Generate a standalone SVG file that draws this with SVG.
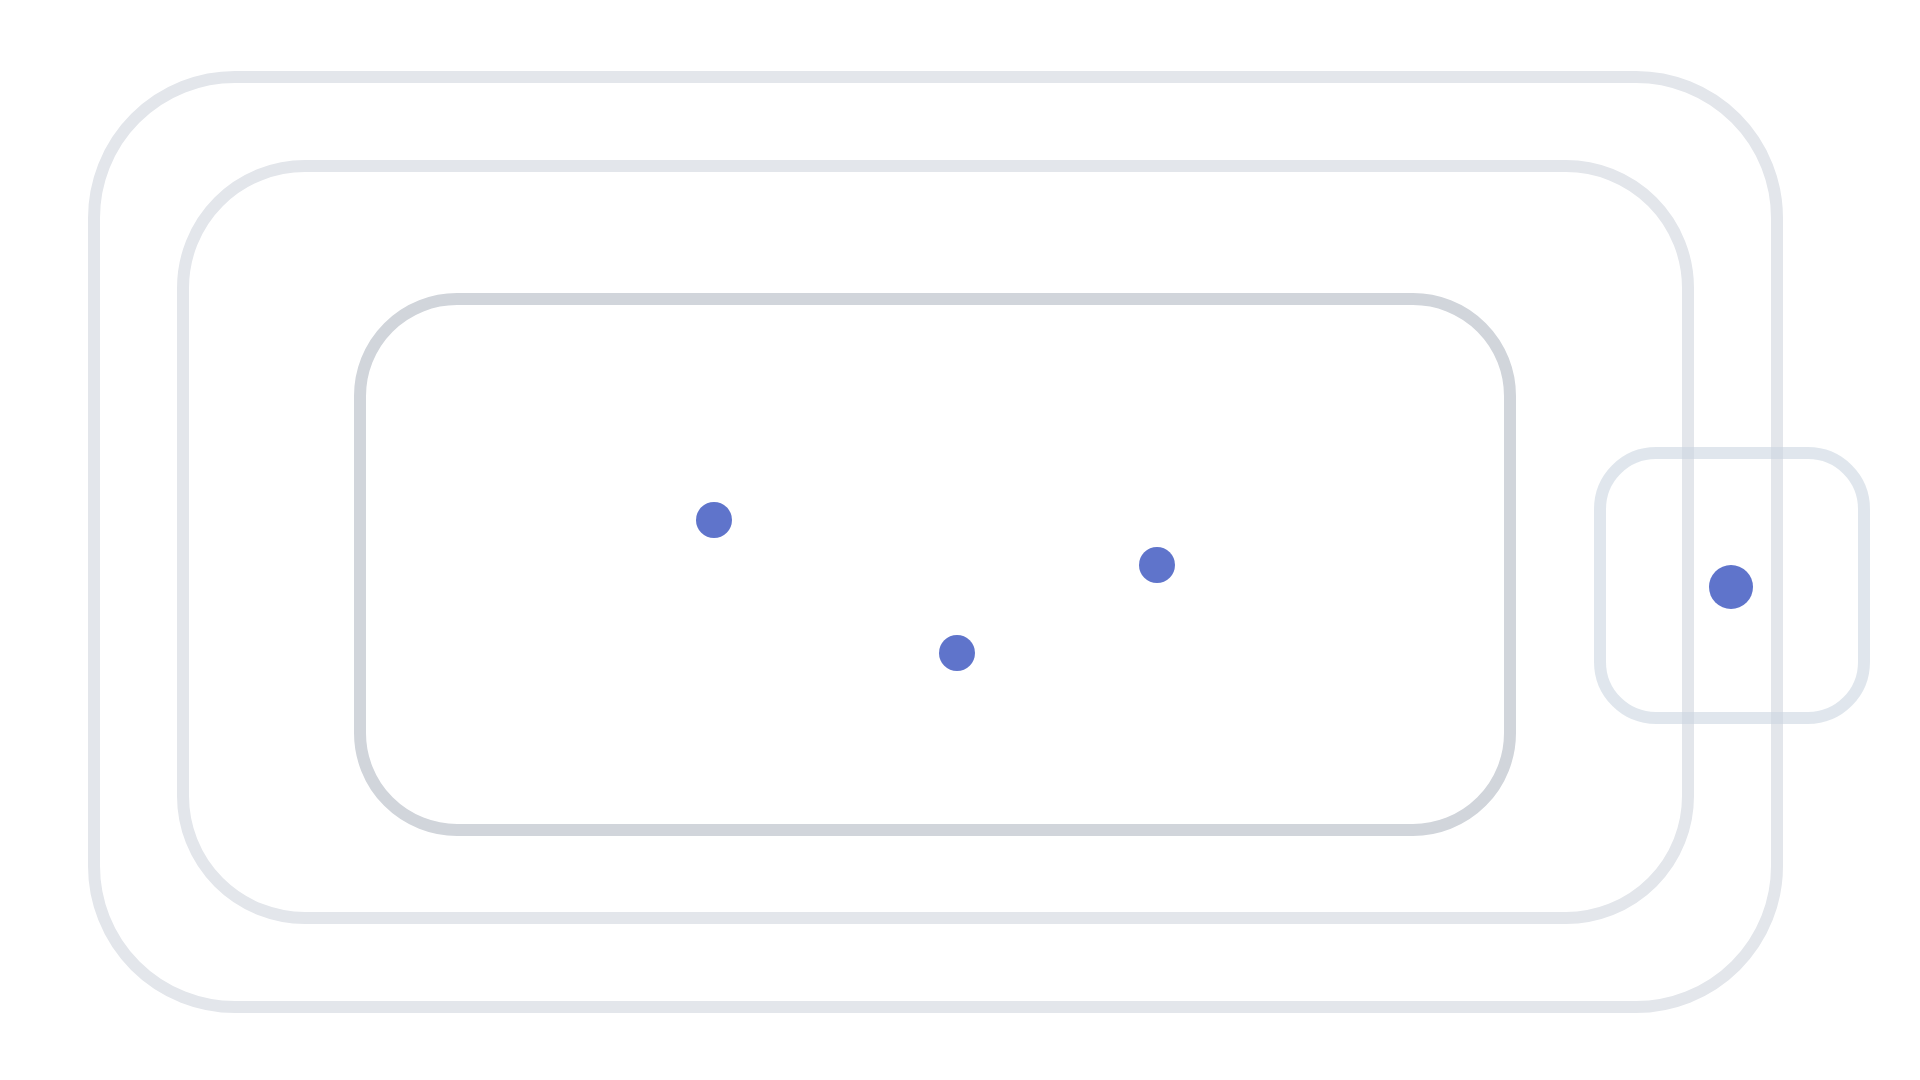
<svg xmlns="http://www.w3.org/2000/svg" width="1920" height="1080" viewBox="0 0 1920 1080">
  <style>
    .frame { fill: none; stroke: #e3e6eb; stroke-width: 12; }
    .frame-inner { fill: none; stroke: #d1d5db; stroke-width: 12; }
    .frame-small { fill: none; stroke: #cbd5e1; stroke-opacity: 0.6; stroke-width: 12; }
    .dot { fill: #5f74cb; }
  </style>
  <rect width="1920" height="1080" fill="#ffffff"/>
  <g id="outer-region">
    <rect class="frame" x="94" y="77" width="1683" height="930" rx="141" ry="141"/>
  </g>
  <g id="middle-region">
    <rect class="frame" x="183" y="166" width="1505" height="752" rx="122" ry="122"/>
  </g>
  <g id="inner-region">
    <rect class="frame-inner" x="360" y="299" width="1150" height="531" rx="97" ry="97"/>
  </g>
  <g id="side-region">
    <rect class="frame-small" x="1600" y="453" width="264" height="265" rx="56" ry="56"/>
  </g>
  <g id="connectors"/>
  <g id="node-a">
    <circle class="dot" cx="714" cy="520" r="18"/>
  </g>
  <g id="node-b">
    <circle class="dot" cx="1157" cy="565" r="18"/>
  </g>
  <g id="node-c">
    <circle class="dot" cx="957" cy="653" r="18"/>
  </g>
  <g id="node-d">
    <circle class="dot" cx="1731" cy="587" r="22"/>
  </g>
</svg>
